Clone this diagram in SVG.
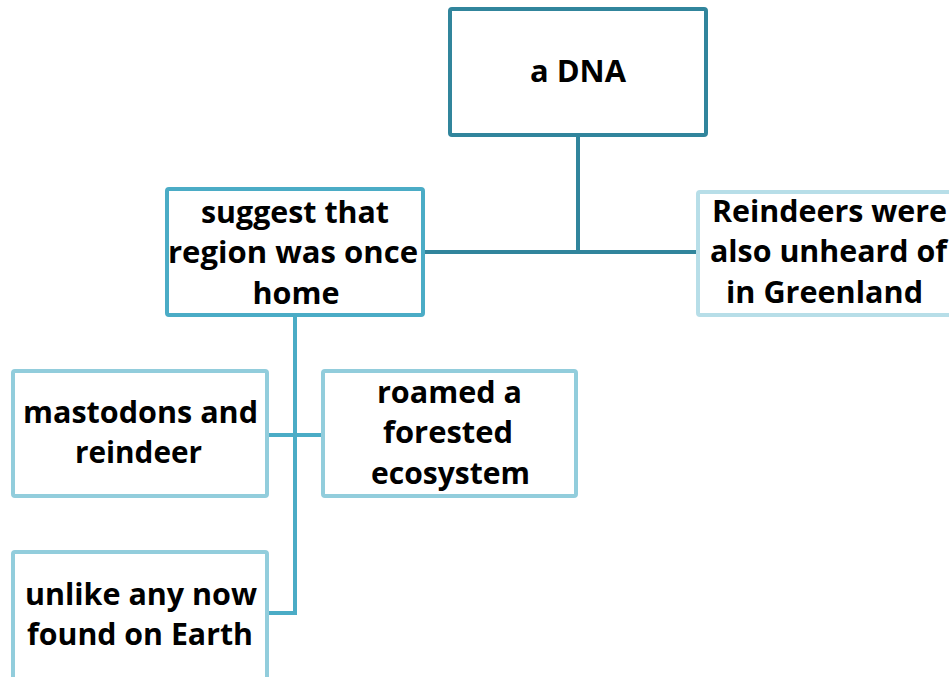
<svg xmlns="http://www.w3.org/2000/svg" width="949" height="677" viewBox="0 0 949 677">
<style>
.box{fill:#ffffff;stroke-width:4;}
.dark{stroke:#31859C;}
.mid{stroke:#4BACC6;}
.light{stroke:#92CDDC;}
.pale{stroke:#B7DEE8;}
.t{font-family:"Open Sans","Liberation Sans",sans-serif;font-weight:bold;font-size:30px;fill:#000000;text-anchor:middle;}
.c{fill:none;stroke-width:4;}
</style>
<rect width="949" height="677" fill="#ffffff"/>
<g id="connectors">
<path class="c dark" d="M578,137 V252 M425,252 H696" stroke="#31859C"/>
<path class="c mid" d="M295,317 V613 H269 M269,435 H321" stroke="#4BACC6"/>
</g>
<g id="node-dna">
<rect class="box dark" x="450" y="9" width="256" height="126" rx="2"/>
<text class="t" x="578" y="82" textLength="96" lengthAdjust="spacingAndGlyphs">a DNA</text>
</g>
<g id="node-suggest">
<rect class="box mid" x="167" y="189" width="256" height="126" rx="2"/>
<text class="t" x="295" y="223" textLength="188" lengthAdjust="spacingAndGlyphs">suggest that</text>
<text class="t" x="293" y="263" textLength="250" lengthAdjust="spacingAndGlyphs">region was once</text>
<text class="t" x="296" y="304" textLength="87" lengthAdjust="spacingAndGlyphs">home</text>
</g>
<g id="node-reindeers">
<rect class="box pale" x="698" y="192" width="270" height="123" rx="2"/>
<text class="t" x="829.5" y="222" textLength="235" lengthAdjust="spacingAndGlyphs">Reindeers were</text>
<text class="t" x="828.5" y="262" textLength="237" lengthAdjust="spacingAndGlyphs">also unheard of</text>
<text class="t" x="824.5" y="303" textLength="197" lengthAdjust="spacingAndGlyphs">in Greenland</text>
</g>
<g id="node-mastodons">
<rect class="box light" x="13" y="371" width="254" height="125" rx="2"/>
<text class="t" x="140.5" y="423" textLength="235" lengthAdjust="spacingAndGlyphs">mastodons and</text>
<text class="t" x="138.5" y="463" textLength="127" lengthAdjust="spacingAndGlyphs">reindeer</text>
</g>
<g id="node-roamed">
<rect class="box light" x="323" y="371" width="253" height="125" rx="2"/>
<text class="t" x="449.5" y="403" textLength="145" lengthAdjust="spacingAndGlyphs">roamed a</text>
<text class="t" x="448" y="443" textLength="130" lengthAdjust="spacingAndGlyphs">forested</text>
<text class="t" x="450.5" y="484" textLength="159" lengthAdjust="spacingAndGlyphs">ecosystem</text>
</g>
<g id="node-unlike">
<rect class="box light" x="13" y="552" width="254" height="140" rx="2"/>
<text class="t" x="141" y="605" textLength="232" lengthAdjust="spacingAndGlyphs">unlike any now</text>
<text class="t" x="140" y="645" textLength="226" lengthAdjust="spacingAndGlyphs">found on Earth</text>
</g>
</svg>
